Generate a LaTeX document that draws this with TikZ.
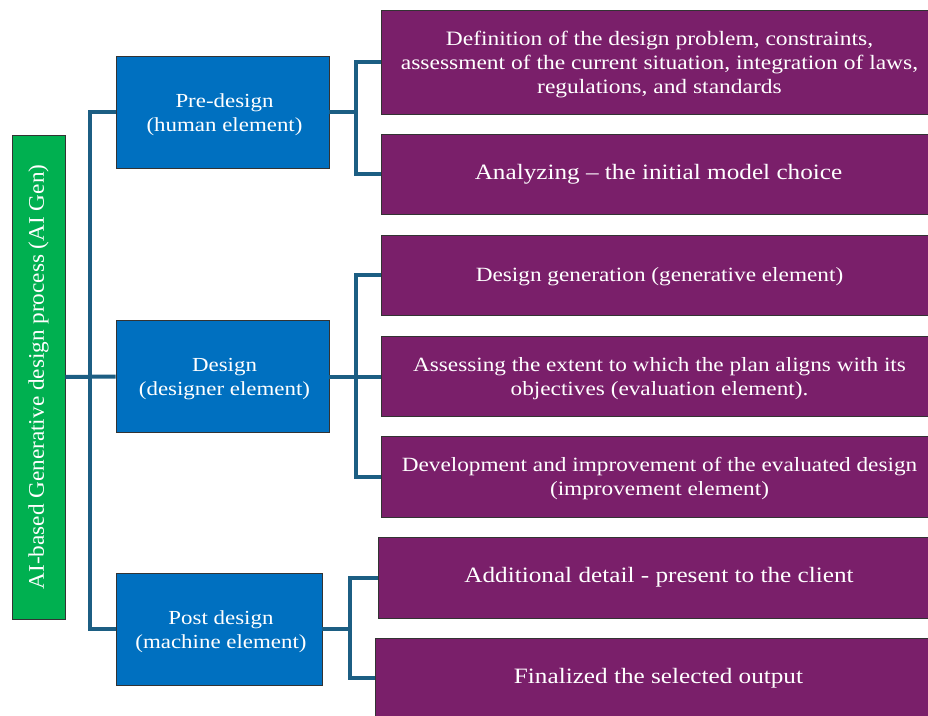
\documentclass[tikz,border=0pt]{standalone}
\usepackage{fontspec}
\setmainfont[FakeStretch=1.15]{Liberation Serif}
\newfontfamily\gfont[FakeStretch=1.04]{Liberation Serif}
\begin{document}
\begin{tikzpicture}[x=1bp,y=-1bp,
  box/.style={draw=black!80, line width=0.7bp, inner sep=0pt, anchor=center},
  txt/.style={text=white, align=center, inner sep=0pt, anchor=center},
  gbox/.style={box, fill=gcol, text=white},
  bbox/.style={box, fill=bcol, minimum width=213bp, minimum height=112bp},
  btxt/.style={txt, font=\fontsize{20}{24}\selectfont},
  pbox/.style={box, fill=pcol, minimum width=547bp},
  link/.style={draw=lcol, line width=4bp}
]
\definecolor{gcol}{HTML}{00B050}
\definecolor{bcol}{HTML}{0070C0}
\definecolor{pcol}{HTML}{7A1F6A}
\definecolor{lcol}{HTML}{1C5E83}
\useasboundingbox (0,0) rectangle (928,716);

\node[gbox, rotate=90, minimum width=484bp, minimum height=53bp, font=\gfont\fontsize{22.4}{26}\selectfont] (ai) at (38.5,377)
  {AI-based Generative design process (AI Gen)};

\node[bbox] (pre) at (222.5,112) {};
\node[btxt] (pret) at ([xshift=2bp,yshift=-2.5bp]pre.center) {Pre-design\\(human element)};
\node[bbox] (des) at (222.5,376.5) {};
\node[btxt] (dest) at ([xshift=2bp,yshift=-2.5bp]des.center) {Design\\(designer element)};
\node[bbox, minimum width=206bp] (post) at (219,629) {};
\node[btxt] (postt) at ([xshift=2bp,yshift=-2.5bp]post.center) {Post design\\(machine element)};

\node[pbox, minimum height=104bp] (p1) at (654.5,62) {};
\node[txt, font=\fontsize{20.5}{24}\selectfont] (p1t) at ([xshift=5bp,yshift=-2.5bp]p1.center)
  {Definition of the design problem, constraints,\\assessment of the current situation, integration of laws,\\regulations, and standards};
\node[pbox, minimum height=80bp] (p2) at (654.5,174) {};
\node[txt, font=\fontsize{22}{26}\selectfont] (p2t) at ([xshift=4bp]p2.center)
  {Analyzing -- the initial model choice};
\node[pbox, minimum height=80bp] (p3) at (654.5,275) {};
\node[txt, font=\fontsize{20.3}{25}\selectfont] (p3t) at ([xshift=5bp,yshift=-1.5bp]p3.center)
  {Design generation (generative element)};
\node[pbox, minimum height=80bp] (p4) at (654.5,376.5) {};
\node[txt, font=\fontsize{20.3}{24}\selectfont] (p4t) at ([xshift=5bp,yshift=-2bp]p4.center)
  {Assessing the extent to which the plan aligns with its\\objectives (evaluation element).};
\node[pbox, minimum height=81bp] (p5) at (654.5,476.5) {};
\node[txt, font=\fontsize{20.3}{24}\selectfont] (p5t) at ([xshift=5bp,yshift=-2bp]p5.center)
  {Development and improvement of the evaluated design\\(improvement element)};
\node[pbox, minimum width=550bp, minimum height=81bp] (p6) at (653,577.5) {};
\node[txt, font=\fontsize{22}{25}\selectfont] (p6t) at ([xshift=6bp]p6.center)
  {Additional detail - present to the client};
\node[pbox, minimum width=553bp, minimum height=80bp] (p7) at (651.5,678) {};
\node[txt, font=\fontsize{22}{25}\selectfont] (p7t) at ([xshift=7bp]p7.center)
  {Finalized the selected output};

\coordinate (t) at (90,376.5);
\coordinate (j1) at (356,112);
\coordinate (j2) at (356,376.5);
\coordinate (j3) at (350,629);

\draw[link] (ai.south) -- (des.west);
\draw[link] (pre.west) -| (t) |- (post.west);
\draw[link] (pre.east) -- (j1);
\draw[link] (p1.west) -| (j1) |- (p2.west);
\draw[link] (des.east) -- (p4.west);
\draw[link] (p3.west) -| (j2) |- (p5.west);
\draw[link] (post.east) -- (j3);
\draw[link] (p6.west) -| (j3) |- (p7.west);
\end{tikzpicture}
\end{document}
